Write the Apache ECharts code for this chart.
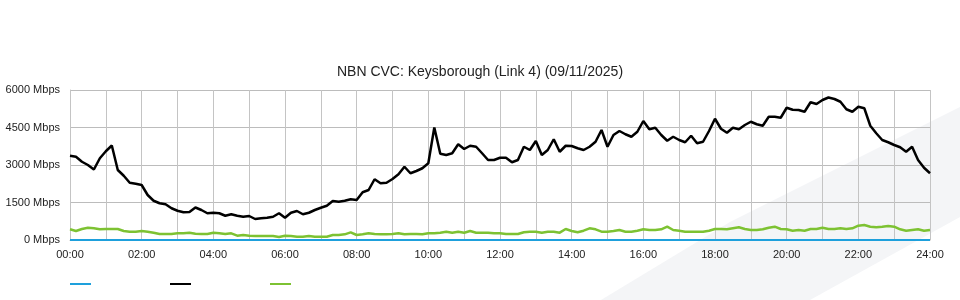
<!DOCTYPE html>
<html>
<head>
<meta charset="utf-8">
<script src="https://cdn.jsdelivr.net/npm/echarts@6/dist/echarts.min.js"></script>
<style>
html,body{margin:0;padding:0;background:#fff;}
#chart{width:960px;height:300px;}
</style>
</head>
<body>
<div id="chart"></div>
<script>
// Times in minutes after midnight (10-minute steps)
var minutes = [];
for (var m = 0; m <= 1440; m += 10) minutes.push(m);

var titleText = 'NBN CVC: Keysborough (Link 4) (09/11/2025)';
var seriesNames = ['Capacity', 'Download', 'Upload'];
var yTicks = [0, 1500, 3000, 4500, 6000];

var blueValues = [];
for (var i = 0; i < minutes.length; i++) blueValues.push(0);

var blackValues = [
3370,3330,3130,3000,2820,3270,3550,3780,2800,2570,2290,2250,
2200,1800,1570,1470,1430,1270,1170,1110,1120,1300,1200,1070,
1090,1070,970,1030,970,930,960,840,870,890,930,1070,
890,1090,1160,1030,1090,1200,1290,1370,1560,1530,1570,1630,
1600,1910,2000,2430,2270,2290,2440,2630,2930,2670,2760,2870,
3070,4500,3450,3400,3470,3830,3640,3770,3730,3470,3200,3200,
3290,3290,3110,3200,3730,3600,3960,3400,3600,4030,3530,3770,
3760,3670,3600,3730,3930,4400,3730,4200,4360,4230,4130,4330,
4760,4430,4490,4200,3970,4130,4000,3910,4170,3870,3930,4360,
4850,4450,4290,4490,4430,4600,4730,4630,4570,4930,4930,4890,
5290,5210,5200,5130,5510,5440,5600,5700,5640,5530,5230,5130,
5330,5270,4570,4270,4000,3910,3800,3710,3530,3730,3200,2890,
2670
];

var greenValues = [
427,360,440,493,467,427,440,440,440,360,333,333,
360,333,293,240,240,240,267,267,293,253,240,240,
293,267,240,267,173,200,173,160,160,160,160,120,
173,160,133,133,160,133,133,133,200,200,227,307,
200,227,267,240,227,227,240,267,227,240,240,227,
267,267,293,333,293,333,293,360,293,293,293,267,
267,240,240,240,307,333,333,293,333,333,293,440,
360,307,373,467,427,333,333,360,400,333,333,373,
427,400,400,427,533,400,373,333,333,333,333,373,
440,440,427,467,507,440,400,400,427,493,533,440,
427,373,400,373,440,440,493,440,440,467,440,467,
573,600,533,507,533,560,533,427,373,400,427,373,
400
];

function pairs(vals) {
  return vals.map(function (v, i) { return [minutes[i] / 60, v]; });
}
function pad(n) { return (n < 10 ? '0' : '') + n; }

var chart = echarts.init(document.getElementById('chart'), null, {renderer: 'canvas'});
var FONT = '"Liberation Sans", Arial, sans-serif';
chart.setOption({
  animation: false,
  backgroundColor: '#ffffff',
  textStyle: {fontFamily: FONT},
  title: {
    text: titleText,
    left: 'center',
    top: 60,
    textStyle: {fontSize: 14, fontWeight: 'normal', color: '#222', fontFamily: FONT}
  },
  graphic: [{
    type: 'polygon',
    z: -10,
    silent: true,
    shape: {points: [[601, 300], [730, 222], [960, 107], [960, 217], [810, 300]]},
    style: {fill: '#f4f5f7'}
  }],
  legend: {
    left: 70,
    top: 283,
    icon: 'rect',
    itemWidth: 21,
    itemHeight: 2,
    itemGap: 79,
    padding: 0,
    formatter: function () { return ''; },
    data: seriesNames
  },
  grid: {left: 70, right: 30, top: 90, bottom: 60, containLabel: false},
  xAxis: {
    type: 'value',
    min: 0, max: 24, interval: 1,
    axisLine: {show: true, lineStyle: {color: '#c4c4c4'}},
    axisTick: {show: false},
    splitLine: {show: true, lineStyle: {color: '#c4c4c4', width: 1}},
    axisLabel: {
      margin: 9,
      fontSize: 11,
      color: '#222',
      fontFamily: FONT,
      formatter: function (v) { return v % 2 === 0 ? pad(v) + ':00' : ''; }
    }
  },
  yAxis: {
    type: 'value',
    min: yTicks[0], max: yTicks[yTicks.length - 1], interval: 1500,
    axisLine: {show: true, lineStyle: {color: '#c4c4c4'}},
    axisTick: {show: false},
    splitLine: {show: true, lineStyle: {color: '#bcbcbc', width: 1}},
    axisLabel: {
      margin: 10,
      fontSize: 11,
      color: '#222',
      fontFamily: FONT,
      formatter: function (v) { return v + ' Mbps'; }
    }
  },
  series: [
    {name: seriesNames[0], type: 'line', data: pairs(blueValues), showSymbol: false,
     lineStyle: {color: '#1ea0dc', width: 2}, itemStyle: {color: '#1ea0dc'}, z: 5},
    {name: seriesNames[1], type: 'line', data: pairs(blackValues), showSymbol: false,
     lineStyle: {color: '#000000', width: 2.5}, itemStyle: {color: '#000000'}, z: 4},
    {name: seriesNames[2], type: 'line', data: pairs(greenValues), showSymbol: false,
     lineStyle: {color: '#7dc232', width: 2.5}, itemStyle: {color: '#7dc232'}, z: 3}
  ]
});
</script>
</body>
</html>
